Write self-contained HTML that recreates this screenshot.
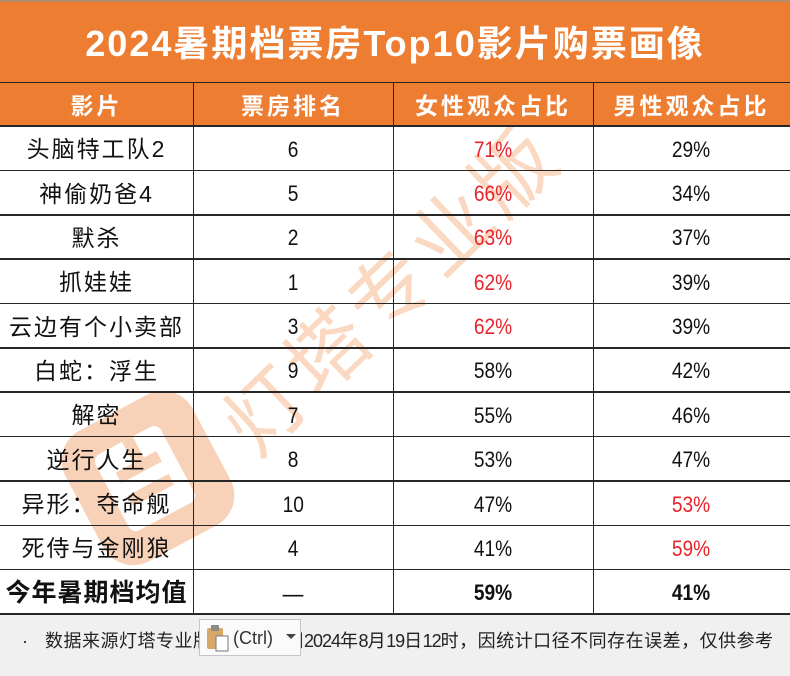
<!DOCTYPE html>
<html>
<head>
<meta charset="utf-8">
<style>
  html,body{margin:0;padding:0;}
  body{width:790px;height:676px;position:relative;overflow:hidden;background:#F0F0F0;
       font-family:"Liberation Sans","Noto Sans CJK SC",sans-serif;color:#111;}
  .abs{position:absolute;}
  #title{left:0;top:0;width:790px;height:82px;background:#ED7D31;border-top:2px solid #B38B6D;box-sizing:border-box;
         display:flex;align-items:center;justify-content:center;color:#fff;font-size:36px;font-weight:bold;letter-spacing:2px;padding-top:4px;line-height:1;}
  #hdr{left:0;top:82px;width:790px;height:44px;background:#ED7D31;}
  #bodybg{left:0;top:126px;width:790px;height:488px;background:#fff;}
  .r{position:absolute;left:0;width:790px;height:44.36px;}
  .c{position:absolute;top:0;height:100%;display:flex;align-items:center;justify-content:center;box-sizing:border-box;padding-top:3px;line-height:1;white-space:nowrap;}
  .c1{left:0;width:193px;}
  .c2{left:193px;width:200px;}
  .c3{left:393px;width:200px;}
  .c4{left:593px;width:197px;}
  .h .c{color:#fff;font-weight:bold;font-size:23px;letter-spacing:3px;padding-top:4px;}
  .nm{font-size:23px;letter-spacing:2px;}
  .n{display:inline-block;font-size:22px;transform:scaleX(0.87);}
  .red{color:#E8232B;}
  .b .nm{font-weight:bold;font-size:25px;letter-spacing:1px;}
  .b .n{font-weight:bold;transform:scaleX(0.87);}
  .hl{position:absolute;left:0;width:790px;height:1.5px;background:#262626;}
  .vl{position:absolute;top:82px;height:532px;width:1.5px;background:#262626;}
  #foot{left:22px;top:628px;font-size:18px;letter-spacing:0.5px;color:#222;line-height:26px;white-space:nowrap;
        font-family:"Liberation Sans","Noto Sans CJK SC",sans-serif;}
  #foot .d{letter-spacing:-1px;}
  #popup{left:199px;top:619px;width:102px;height:37px;background:#FAFAFA;border:1px solid #C6C6C6;box-sizing:border-box;}
  #ctrl{left:233px;top:627px;font-size:18px;color:#333;line-height:22px;font-family:"Liberation Sans",sans-serif;}
</style>
</head>
<body>
<div id="bodybg" class="abs"></div>
<div id="hdr" class="abs"></div>

<svg class="abs" style="left:0;top:0" width="790" height="676">
  <g transform="translate(148,478) rotate(-28)" opacity="0.34">
    <rect x="-72" y="-74" width="144" height="148" rx="34" fill="#ED7D31"/>
    <rect x="-40" y="-44" width="74" height="86" rx="8" fill="#ffffff"/>
    <rect x="-26" y="-20" width="46" height="12" fill="#ED7D31"/>
    <rect x="-26" y="6" width="46" height="12" fill="#ED7D31"/>
    <rect x="-6" y="-44" width="12" height="24" fill="#ED7D31"/>
  </g>
  <text x="392" y="318" transform="rotate(-44 392 290)" text-anchor="middle" font-size="80" letter-spacing="6"
        font-family="Noto Sans CJK SC, sans-serif" fill="#ED7D31" fill-opacity="0.3">灯塔专业版</text>
</svg>

<div id="title" class="abs">2024暑期档票房Top10影片购票画像</div>

<div class="r h" style="top:82px;height:44px;">
  <div class="c c1">影片</div>
  <div class="c c2">票房排名</div>
  <div class="c c3">女性观众占比</div>
  <div class="c c4">男性观众占比</div>
</div>

<div class="r" style="top:126px;"><div class="c c1"><span class="nm">头脑特工队2</span></div><div class="c c2"><span class="n">6</span></div><div class="c c3"><span class="n red">71%</span></div><div class="c c4"><span class="n">29%</span></div></div>
<div class="r" style="top:170.36px;"><div class="c c1"><span class="nm">神偷奶爸4</span></div><div class="c c2"><span class="n">5</span></div><div class="c c3"><span class="n red">66%</span></div><div class="c c4"><span class="n">34%</span></div></div>
<div class="r" style="top:214.73px;"><div class="c c1"><span class="nm">默杀</span></div><div class="c c2"><span class="n">2</span></div><div class="c c3"><span class="n red">63%</span></div><div class="c c4"><span class="n">37%</span></div></div>
<div class="r" style="top:259.09px;"><div class="c c1"><span class="nm">抓娃娃</span></div><div class="c c2"><span class="n">1</span></div><div class="c c3"><span class="n red">62%</span></div><div class="c c4"><span class="n">39%</span></div></div>
<div class="r" style="top:303.45px;"><div class="c c1"><span class="nm">云边有个小卖部</span></div><div class="c c2"><span class="n">3</span></div><div class="c c3"><span class="n red">62%</span></div><div class="c c4"><span class="n">39%</span></div></div>
<div class="r" style="top:347.82px;"><div class="c c1"><span class="nm">白蛇：浮生</span></div><div class="c c2"><span class="n">9</span></div><div class="c c3"><span class="n">58%</span></div><div class="c c4"><span class="n">42%</span></div></div>
<div class="r" style="top:392.18px;"><div class="c c1"><span class="nm">解密</span></div><div class="c c2"><span class="n">7</span></div><div class="c c3"><span class="n">55%</span></div><div class="c c4"><span class="n">46%</span></div></div>
<div class="r" style="top:436.55px;"><div class="c c1"><span class="nm">逆行人生</span></div><div class="c c2"><span class="n">8</span></div><div class="c c3"><span class="n">53%</span></div><div class="c c4"><span class="n">47%</span></div></div>
<div class="r" style="top:480.91px;"><div class="c c1"><span class="nm">异形：夺命舰</span></div><div class="c c2"><span class="n">10</span></div><div class="c c3"><span class="n">47%</span></div><div class="c c4"><span class="n red">53%</span></div></div>
<div class="r" style="top:525.27px;"><div class="c c1"><span class="nm">死侍与金刚狼</span></div><div class="c c2"><span class="n">4</span></div><div class="c c3"><span class="n">41%</span></div><div class="c c4"><span class="n red">59%</span></div></div>
<div class="r b" style="top:569.64px;"><div class="c c1"><span class="nm">今年暑期档均值</span></div><div class="c c2"><span style="font-family:'Noto Sans CJK SC',sans-serif;font-size:26px;">—</span></div><div class="c c3"><span class="n">59%</span></div><div class="c c4"><span class="n">41%</span></div></div>

<div class="hl" style="top:81.5px;"></div>
<div class="hl" style="top:125.3px;"></div>
<div class="hl" style="top:169.6px;"></div>
<div class="hl" style="top:214px;"></div>
<div class="hl" style="top:258.3px;"></div>
<div class="hl" style="top:302.7px;"></div>
<div class="hl" style="top:347.1px;"></div>
<div class="hl" style="top:391.4px;"></div>
<div class="hl" style="top:435.8px;"></div>
<div class="hl" style="top:480.2px;"></div>
<div class="hl" style="top:524.5px;"></div>
<div class="hl" style="top:568.9px;"></div>
<div class="hl" style="top:613.2px;"></div>
<div class="vl" style="left:192.5px;"></div>
<div class="vl" style="left:392.5px;"></div>
<div class="vl" style="left:592.5px;"></div>

<div id="foot" class="abs">·&nbsp;&nbsp;&nbsp;数据来源灯塔专业版，统计时间<span class="d">2024</span>年<span class="d">8</span>月<span class="d">19</span>日<span class="d">12</span>时，因统计口径不同存在误差，仅供参考</div>

<div id="popup" class="abs"></div>
<svg class="abs" style="left:205px;top:624px" width="28" height="30">
  <rect x="2" y="4" width="16" height="21" rx="2" fill="#D8A868"/>
  <rect x="6" y="1" width="8" height="6" rx="1" fill="#8A8A8A"/>
  <rect x="11" y="12" width="12" height="15" fill="#ffffff" stroke="#777" stroke-width="1"/>
</svg>
<div id="ctrl" class="abs">(Ctrl)</div>
<svg class="abs" style="left:285px;top:633px" width="12" height="8">
  <polygon points="1,1 11,1 6,6" fill="#444"/>
</svg>
</body>
</html>
